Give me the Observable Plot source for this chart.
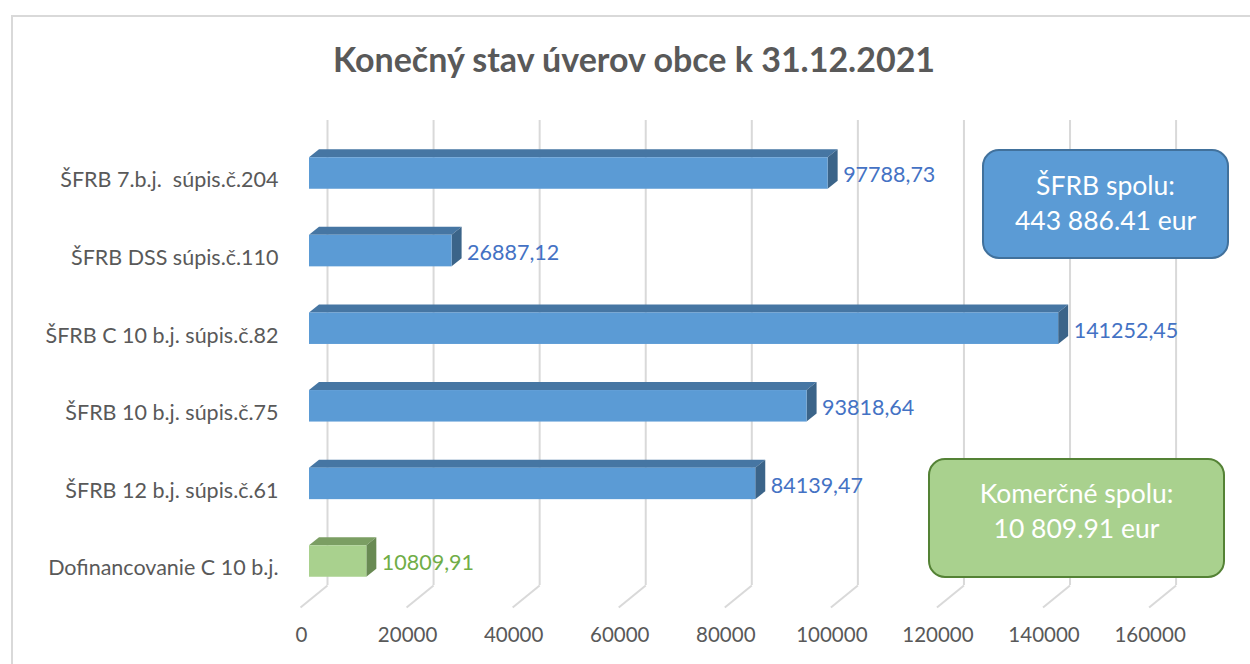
<!DOCTYPE html>
<html>
<head>
<meta charset="utf-8">
<script src="https://cdn.jsdelivr.net/npm/d3@7"></script>
<script src="https://cdn.jsdelivr.net/npm/@observablehq/plot@0.6"></script>
<style>
  html, body { margin: 0; padding: 0; background: #fff; overflow: hidden; }
  #wrap { position: relative; width: 1250px; height: 664px; overflow: hidden; font-family: Lato, "Open Sans", sans-serif; }
  #frame { position: absolute; left: 11px; top: 15px; width: 1300px; height: 700px; border: 2px solid #d9d9d9; box-sizing: border-box; }
  #title { position: absolute; left: 634px; top: 58px; transform: translate(-50%, -50%); font-size: 34px; font-weight: bold; color: #595959; white-space: nowrap; }
  #chart { position: absolute; left: 0; top: 0; }
  #chart svg text { white-space: pre; }
  .box { position: absolute; box-sizing: border-box; border-radius: 17px; color: #fff; font-size: 26.5px; line-height: 35px; text-align: center; display: flex; flex-direction: column; justify-content: center; }
  #boxBlue { left: 982px; top: 149px; width: 247px; height: 110px; background: #5b9bd5; border: 2px solid #41719c; padding-bottom: 3px; }
  #boxGreen { left: 928px; top: 458px; width: 297px; height: 120px; background: #a9d18e; border: 2px solid #548235; padding-bottom: 14px; }
</style>
</head>
<body>
<div id="wrap">
  <div id="frame"></div>
  <div id="chart"></div>
  <div id="title"></div>
  <div class="box" id="boxBlue"></div>
  <div class="box" id="boxGreen"></div>
</div>
<script>
// ---- data ----
const title = "Konečný stav úverov obce k 31.12.2021";
const categories = [
  "ŠFRB 7.b.j.  súpis.č.204",
  "ŠFRB DSS súpis.č.110",
  "ŠFRB C 10 b.j. súpis.č.82",
  "ŠFRB 10 b.j. súpis.č.75",
  "ŠFRB 12 b.j. súpis.č.61",
  "Dofinancovanie C 10 b.j."
];
const values = [97788.73, 26887.12, 141252.45, 93818.64, 84139.47, 10809.91];
const valueLabels = ["97788,73", "26887,12", "141252,45", "93818,64", "84139,47", "10809,91"];
const groups = ["ŠFRB", "ŠFRB", "ŠFRB", "ŠFRB", "ŠFRB", "Komerčné"];
const xTicks = [0, 20000, 40000, 60000, 80000, 100000, 120000, 140000, 160000];
const boxBlueLines = ["ŠFRB spolu:", "443 886.41 eur"];
const boxGreenLines = ["Komerčné spolu:", "10 809.91 eur"];

// ---- styles / layout ----
const W = 1250, H = 664;
const mL = 309, mR = 92.4, mT = 120, mB = 79;
const xMax = 160000;
const unitPerPx = xMax / (W - mL - mR);
const rowPx = 77.6, row0Px = 173;
const yDom = [(mT - row0Px) / rowPx, (H - mB - row0Px) / rowPx];
const half = 15.75 / rowPx;          // half height of bar front face
const depX = 10 * unitPerPx, depY = 8 / rowPx;   // 3D depth of bars
const colors = {
  "ŠFRB":     {front: "#5b9bd5", top: "#4676a3", side: "#3b6489", text: "#4472c4"},
  "Komerčné": {front: "#a9d18e", top: "#7b9e63", side: "#698a53", text: "#70ad47"}
};

const rows = categories.map((c, i) => ({cat: c, i, value: values[i], label: valueLabels[i], group: groups[i]}));

function faceTop(r) {
  const yt = r.i - half;
  return [
    {i: r.i, x1: 0, y1: yt, x2: depX, y2: yt - depY},
    {i: r.i, x1: r.value, y1: yt, x2: r.value + depX, y2: yt - depY}
  ];
}
function faceSide(r) {
  return [
    {i: r.i, x1: r.value, y1: r.i - half, x2: r.value + depX, y2: r.i - half - depY},
    {i: r.i, x1: r.value, y1: r.i + half, x2: r.value + depX, y2: r.i + half - depY}
  ];
}

const barMarks = [];
for (const g of Object.keys(colors)) {
  const sub = rows.filter(r => r.group === g);
  const c = colors[g];
  barMarks.push(
    Plot.area(sub.flatMap(faceTop), {x1: "x1", y1: "y1", x2: "x2", y2: "y2", z: "i", fill: c.top, curve: "linear"}),
    Plot.area(sub.flatMap(faceSide), {x1: "x1", y1: "y1", x2: "x2", y2: "y2", z: "i", fill: c.side, curve: "linear"}),
    Plot.rect(sub, {x1: 0, x2: "value", y1: d => d.i - half, y2: d => d.i + half, fill: c.front}),
    Plot.text(sub, {x: "value", y: "i", text: "label", dx: 15, dy: 2, textAnchor: "start", fill: c.text, fontSize: 21.5})
  );
}

const chart = Plot.plot({
  width: W, height: H,
  marginLeft: mL, marginRight: mR, marginTop: mT, marginBottom: mB,
  style: {fontFamily: "Lato, 'Open Sans', sans-serif", color: "#595959", background: "transparent"},
  x: {domain: [0, xMax], axis: null},
  y: {domain: yDom, reverse: true, axis: null},
  marks: [
    Plot.ruleX(xTicks, {x: d => d, y1: yDom[0], y2: yDom[1], dx: 18, stroke: "#d9d9d9", strokeWidth: 2}),
    Plot.link(xTicks, {x1: d => d, y1: yDom[1], x2: d => d - 27 * unitPerPx, y2: yDom[1] + 22 / rowPx, dx: 18, stroke: "#d9d9d9", strokeWidth: 2}),
    Plot.axisX(xTicks, {tickSize: 0, tickPadding: 42, dx: -8, fontSize: 20.5, tickFormat: d => String(d)}),
    Plot.axisY(d3.range(categories.length), {tickSize: 0, tickPadding: 31, dy: 7, fontSize: 21.5, tickFormat: i => categories[i]}),
    ...barMarks
  ]
});
document.getElementById("chart").appendChild(chart);
document.getElementById("title").textContent = title;
document.getElementById("boxBlue").innerHTML = boxBlueLines.map(s => `<div>${s}</div>`).join("");
document.getElementById("boxGreen").innerHTML = boxGreenLines.map(s => `<div>${s}</div>`).join("");
</script>
</body>
</html>
